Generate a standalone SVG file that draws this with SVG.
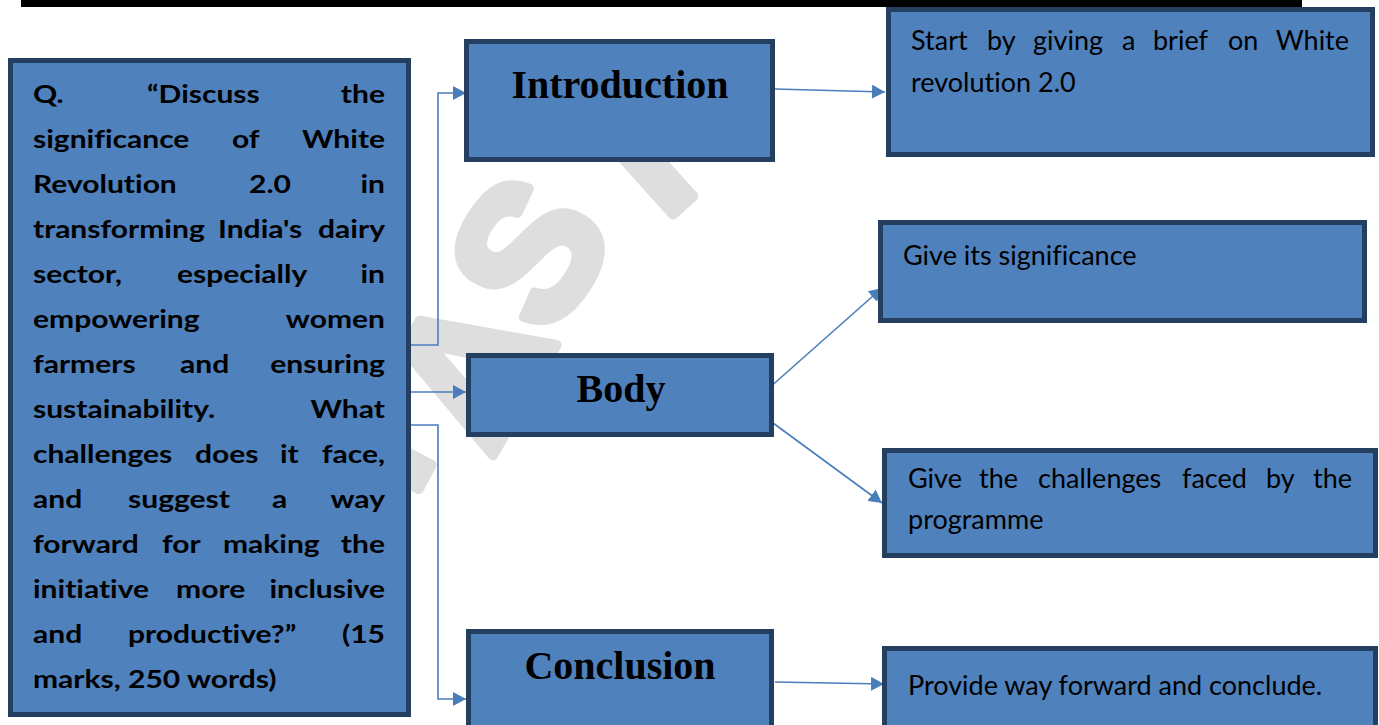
<svg xmlns="http://www.w3.org/2000/svg" width="1379" height="725" viewBox="0 0 1379 725">
  <defs>
    <marker id="arrow" viewBox="0 0 13 14" refX="13" refY="7" markerWidth="13" markerHeight="14" markerUnits="userSpaceOnUse" orient="auto">
      <path d="M0,0 L13,7 L0,14 z" fill="#4A7EBB"/>
    </marker>
  </defs>
  <style>
    .box { fill: #4F81BD; stroke: #243F60; stroke-width: 5; }
    .q { font-family: Lato, "Liberation Sans", sans-serif; font-weight: bold; font-size: 25px; fill: #000; font-variant-ligatures: none; }
    .head { font-family: "Liberation Serif", serif; font-weight: bold; font-size: 40px; fill: #000; text-anchor: middle; }
    .txt { font-family: Lato, "Liberation Sans", sans-serif; font-size: 27px; fill: #000; font-variant-ligatures: none; }
    .end { text-anchor: end; }
    .conn { fill: none; stroke: #4A7EBB; stroke-width: 1.6; marker-end: url(#arrow); }
    .wm { font-family: "Liberation Sans", sans-serif; font-weight: bold; font-size: 190px; fill: #DEDEDE; stroke: #DEDEDE; stroke-width: 10; stroke-linejoin: round; text-anchor: middle; }
  </style>

  <rect width="1379" height="725" fill="#fff"/>

  <!-- faint background watermark, letters set along a gentle curve -->
  <g id="watermark">
    <text class="wm" transform="translate(365,445) rotate(-62)" y="68">I</text>
    <text class="wm" transform="translate(466,366) rotate(-60)" y="68">A</text>
    <text class="wm" transform="translate(527,250) rotate(-57)" y="68">S</text>
    <text class="wm" transform="translate(665,130) rotate(-42)" y="68">P</text>
  </g>

  <!-- page rule at the top -->
  <rect x="21" y="0" width="1281" height="7" fill="#000"/>

  <g id="connectors">
    <path class="conn" d="M407,345 H438 V93 H466"/>
    <path class="conn" d="M407,392 H466"/>
    <path class="conn" d="M407,425 H438 V699 H466"/>
    <path class="conn" d="M775,89 L885,92"/>
    <path class="conn" d="M768,389 L882,288"/>
    <path class="conn" d="M773,423 L882,503"/>
    <path class="conn" d="M775,682 L884,684"/>
  </g>

  <g id="question">
    <rect class="box" x="10.5" y="60.5" width="398" height="654"/>
    <!-- wide bold face: glyphs stretched 1.2x horizontally about x=33 -->
    <g class="q" transform="matrix(1.2,0,0,1,-6.6,0)">
      <text y="103"><tspan x="33">Q.</tspan><tspan x="128">“Discuss</tspan><tspan x="326.3" class="end">the</tspan></text>
      <text y="148"><tspan x="33">significance</tspan><tspan x="198.8">of</tspan><tspan x="326.3" class="end">White</tspan></text>
      <text y="193"><tspan x="33">Revolution</tspan><tspan x="213">2.0</tspan><tspan x="326.3" class="end">in</tspan></text>
      <text y="238"><tspan x="33">transforming</tspan><tspan x="187.2">India's</tspan><tspan x="326.3" class="end">dairy</tspan></text>
      <text y="283"><tspan x="33">sector,</tspan><tspan x="153">especially</tspan><tspan x="326.3" class="end">in</tspan></text>
      <text y="328"><tspan x="33">empowering</tspan><tspan x="326.3" class="end">women</tspan></text>
      <text y="373"><tspan x="33">farmers</tspan><tspan x="155.5">and</tspan><tspan x="326.3" class="end">ensuring</tspan></text>
      <text y="418"><tspan x="33">sustainability.</tspan><tspan x="326.3" class="end">What</tspan></text>
      <text y="463"><tspan x="33">challenges</tspan><tspan x="168">does</tspan><tspan x="238.8">it</tspan><tspan x="326.3" class="end">face,</tspan></text>
      <text y="508"><tspan x="33">and</tspan><tspan x="112.2">suggest</tspan><tspan x="232.2">a</tspan><tspan x="326.3" class="end">way</tspan></text>
      <text y="553"><tspan x="33">forward</tspan><tspan x="140.5">for</tspan><tspan x="191.3">making</tspan><tspan x="326.3" class="end">the</tspan></text>
      <text y="598"><tspan x="33">initiative</tspan><tspan x="152.2">more</tspan><tspan x="326.3" class="end">inclusive</tspan></text>
      <text y="643"><tspan x="33">and</tspan><tspan x="112.2">productive?”</tspan><tspan x="326.3" class="end">(15</tspan></text>
      <text y="688" x="33">marks, 250 words)</text>
    </g>
  </g>

  <g id="introduction">
    <rect class="box" x="466.5" y="41.5" width="306" height="118"/>
    <text class="head" x="620" y="98">Introduction</text>
  </g>

  <g id="body">
    <rect class="box" x="468.5" y="355.5" width="303" height="79"/>
    <text class="head" x="621" y="402">Body</text>
  </g>

  <g id="conclusion">
    <rect class="box" x="468.5" y="631.5" width="303" height="120"/>
    <text class="head" x="620" y="679">Conclusion</text>
  </g>

  <g id="intro-point">
    <rect class="box" x="888.5" y="9.5" width="484" height="145"/>
    <text class="txt" y="50"><tspan x="911">Start</tspan><tspan x="987">by</tspan><tspan x="1033">giving</tspan><tspan x="1122">a</tspan><tspan x="1153">brief</tspan><tspan x="1228">on</tspan><tspan x="1349" class="end">White</tspan></text>
    <text class="txt" x="911" y="92">revolution 2.0</text>
  </g>

  <g id="significance-point">
    <rect class="box" x="880.5" y="222.5" width="484" height="98"/>
    <text class="txt" x="903" y="265">Give its significance</text>
  </g>

  <g id="challenges-point">
    <rect class="box" x="884.5" y="450.5" width="491" height="105"/>
    <text class="txt" y="488"><tspan x="908">Give</tspan><tspan x="979">the</tspan><tspan x="1038">challenges</tspan><tspan x="1182">faced</tspan><tspan x="1266">by</tspan><tspan x="1352" class="end">the</tspan></text>
    <text class="txt" x="908" y="529">programme</text>
  </g>

  <g id="conclusion-point">
    <rect class="box" x="884.5" y="648.5" width="491" height="100"/>
    <text class="txt" x="908" y="695">Provide way forward and conclude.</text>
  </g>
</svg>
